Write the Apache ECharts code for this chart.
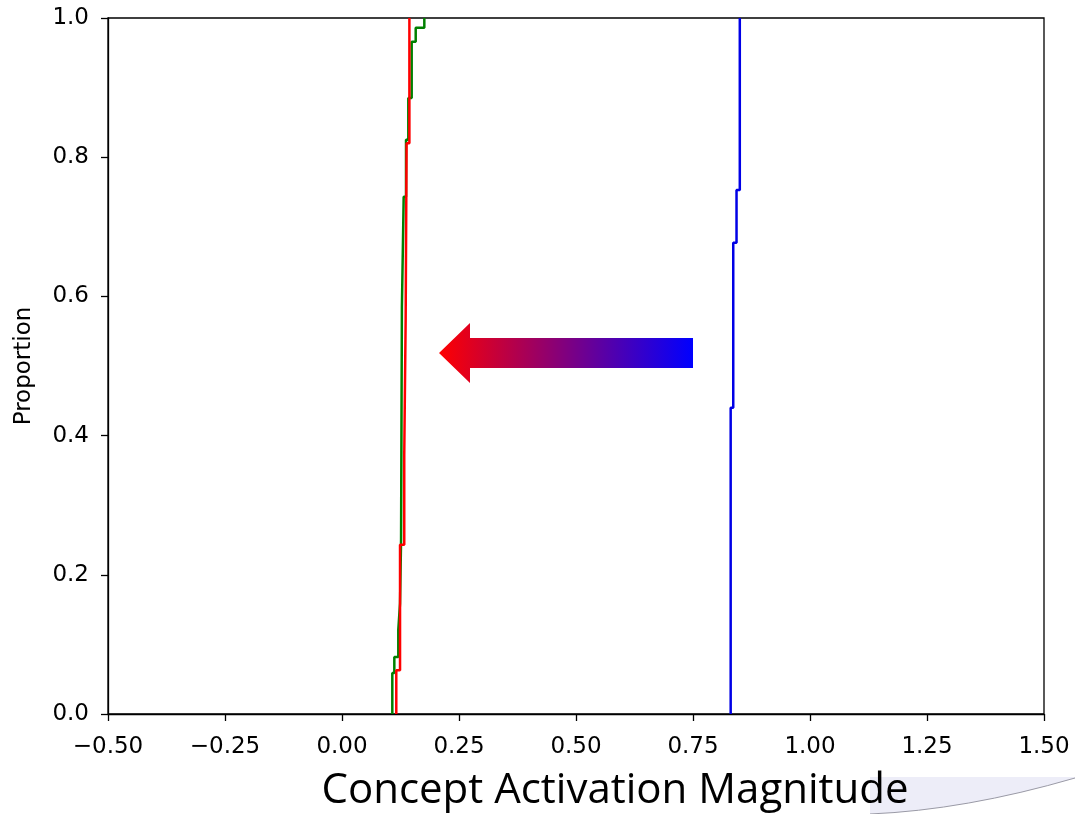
<!DOCTYPE html>
<html>
<head>
<meta charset="utf-8">
<script src="https://cdn.jsdelivr.net/npm/echarts@6/dist/echarts.min.js"></script>
<style>
html,body{margin:0;padding:0;background:#fff;}
#chart{width:1075px;height:814px;}
</style>
</head>
<body>
<div id="chart"></div>
<script>
// ---- data (ECDF step values) ----
const xTickValues = [-0.5, -0.25, 0, 0.25, 0.5, 0.75, 1.0, 1.25, 1.5];
const xTickLabels = ['\u22120.50', '\u22120.25', '0.00', '0.25', '0.50', '0.75', '1.00', '1.25', '1.50'];
const yTickValues = [0, 0.2, 0.4, 0.6, 0.8, 1.0];
const yTickLabels = ['0.0', '0.2', '0.4', '0.6', '0.8', '1.0'];

// green ECDF: value at each jump, cumulative proportion reached at that value
const greenX = [0.1075, 0.1118, 0.1203, 0.1240, 0.1262, 0.1280, 0.1300, 0.1318, 0.1368, 0.1417, 0.1489, 0.1575, 0.1759];
const greenP = [0.059, 0.082, 0.121, 0.159, 0.250, 0.585, 0.667, 0.743, 0.825, 0.885, 0.966, 0.986, 1.0];

// red ECDF
const redX = [0.1160, 0.1240, 0.1330, 0.1360, 0.1380, 0.1440];
const redP = [0.063, 0.243, 0.372, 0.566, 0.820, 1.0];

// blue ECDF
const blueX = [0.8305, 0.8360, 0.8430, 0.8500];
const blueP = [0.440, 0.677, 0.753, 1.0];

const xTitle = 'Concept Activation Magnitude';
const yTitle = 'Proportion';

// build ECDF step polylines from the arrays
function ecdfPoints(xs, ps) {
  const pts = [[xs[0], 0]];
  let prev = 0;
  for (let i = 0; i < xs.length; i++) {
    pts.push([xs[i], prev]);
    pts.push([xs[i], ps[i]]);
    prev = ps[i];
  }
  return pts;
}

const chart = echarts.init(document.getElementById('chart'), null, {renderer: 'canvas'});
const FONT = 'DejaVu Sans';

function lineSeries(name, xs, ps, color) {
  return {
    name: name, type: 'line', data: ecdfPoints(xs, ps),
    showSymbol: false, symbol: 'none', animation: false,
    lineStyle: {color: color, width: 2.5}, z: 3
  };
}

// decorative swoosh (slide background element) outline
const swoosh = [[870, 777], [1075, 777]];
for (let i = 0; i <= 20; i++) {
  const t = i / 20;
  const x = (1 - t) * (1 - t) * 1075 + 2 * t * (1 - t) * 965 + t * t * 870;
  const y = (1 - t) * (1 - t) * 778 + 2 * t * (1 - t) * 810 + t * t * 814;
  swoosh.push([x, y]);
}

chart.setOption({
  animation: false,
  backgroundColor: '#ffffff',
  grid: {left: 108, right: 31, top: 18, bottom: 100, show: true, borderColor: '#000', borderWidth: 1.3, backgroundColor: 'transparent'},
  xAxis: {
    type: 'value', min: -0.5, max: 1.5, interval: 0.25,
    axisLine: {show: true, onZero: false, lineStyle: {color: '#000', width: 1.3}},
    axisTick: {show: true, length: 7, lineStyle: {color: '#000', width: 1.3}},
    splitLine: {show: false},
    axisLabel: {
      margin: 22, color: '#000', fontFamily: FONT, fontSize: 23,
      showMinLabel: true, showMaxLabel: true,
      formatter: v => { const i = xTickValues.findIndex(t => Math.abs(t - v) < 1e-9); return i >= 0 ? xTickLabels[i] : ''; }
    }
  },
  yAxis: {
    type: 'value', min: 0, max: 1, interval: 0.2,
    name: yTitle, nameLocation: 'middle', nameGap: 72,
    nameTextStyle: {color: '#000', fontFamily: FONT, fontSize: 23},
    axisLine: {show: true, onZero: false, lineStyle: {color: '#000', width: 1.3}},
    axisTick: {show: true, length: 7, lineStyle: {color: '#000', width: 1.3}},
    splitLine: {show: false},
    axisLabel: {
      margin: 19, color: '#000', fontFamily: FONT, fontSize: 23,
      formatter: v => { const i = yTickValues.findIndex(t => Math.abs(t - v) < 1e-9); return i >= 0 ? yTickLabels[i] : ''; }
    }
  },
  series: [
    lineSeries('blue', blueX, blueP, '#0000e6'),
    lineSeries('green', greenX, greenP, '#008000'),
    lineSeries('red', redX, redP, '#ff0000')
  ],
  graphic: [
    {
      type: 'polygon', silent: true, z: 1,
      shape: {points: swoosh},
      style: {fill: '#ededf8'}
    },
    {
      type: 'bezierCurve', silent: true, z: 2,
      shape: {x1: 1075, y1: 778, cpx1: 965, cpy1: 810, x2: 870, y2: 814},
      style: {fill: null, stroke: '#9a9aa6', lineWidth: 1}
    },
    {
      type: 'polygon', silent: true, z: 10,
      shape: {points: [[439, 353], [470, 323], [470, 338], [693, 338], [693, 368], [470, 368], [470, 383]]},
      style: {
        fill: {type: 'linear', x: 0, y: 0, x2: 1, y2: 0, global: false,
          colorStops: [{offset: 0, color: '#ff0000'}, {offset: 1, color: '#0000ff'}]}
      }
    },
    {
      type: 'text', silent: true, z: 20, x: 615, y: 791,
      style: {text: xTitle, fill: '#000', font: '42px "Open Sans"', textAlign: 'center', textVerticalAlign: 'middle'}
    }
  ]
});
</script>
</body>
</html>
